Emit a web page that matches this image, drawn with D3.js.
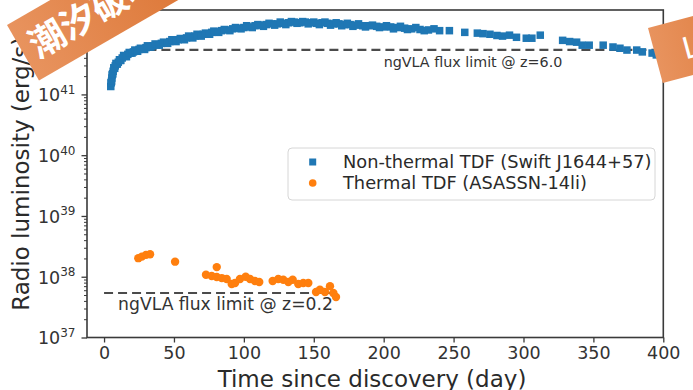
<!DOCTYPE html>
<html>
<head>
<meta charset="utf-8">
<script src="https://cdn.jsdelivr.net/npm/d3@7"></script>
<style>
  html, body { margin: 0; padding: 0; background: #fff; }
  svg { display: block; font-family: "DejaVu Sans", Verdana, sans-serif; }
</style>
</head>
<body>
<svg id="chart" width="693" height="390"></svg>
<script>
// ---------------- data ----------------
// Non-thermal TDF (Swift J1644+57): time (day) and radio luminosity (erg/s)
const swiftDays = [4.8, 5.2, 5.6, 6.0, 6.5, 7.2, 8.0, 9.0, 10.2, 11.5, 13, 15, 17, 19, 21, 23, 25, 27.5, 30, 32,
  35, 38, 41, 44, 47, 50, 53, 56, 59, 62, 65, 68, 71, 74, 77, 80, 84, 88, 92, 96,
  100, 104, 108, 112, 116, 120, 124, 128, 132, 136, 140, 144, 148, 152, 156, 160, 164, 168, 172, 176,
  180, 185, 190, 195, 200, 205, 210, 215, 220, 226, 232, 240, 247, 258, 267, 271, 276, 281, 285, 290,
  295, 302, 306, 312, 328, 333, 338, 342, 347, 357, 364, 369, 374, 381, 385, 392, 395,
  5.0, 5.4, 5.8, 6.2, 7.0, 7.6, 8.5, 9.5, 11, 12, 14, 16, 18, 20, 22, 24, 26, 29, 31, 33.5,
  36.5, 39.5, 42.5, 45.5, 48.5, 51.5, 54.5, 57.5, 60.5, 63.5, 66.5, 69.5, 72.5, 75.5, 78.5, 82, 86, 90, 94, 98,
  102, 106, 110, 114, 118, 122, 126, 130, 134, 138, 142, 146, 150, 154, 158, 162, 166, 170, 174, 178,
  182, 187, 192, 197, 202, 207, 212, 217, 223, 229, 236];
const swiftLum = [1.35e41, 1.58e41, 1.86e41, 2.14e41, 2.40e41, 2.69e41, 2.95e41, 3.16e41, 3.39e41, 3.63e41, 3.98e41, 4.27e41, 4.57e41, 4.79e41, 5.01e41, 5.25e41, 5.50e41, 5.62e41, 5.89e41, 6.03e41,
  6.31e41, 6.61e41, 6.92e41, 7.08e41, 7.41e41, 7.67e41, 7.94e41, 8.13e41, 8.51e41, 8.91e41, 9.12e41, 9.33e41, 9.77e41, 1.00e42, 1.05e42, 1.07e42, 1.12e42, 1.15e42, 1.20e42, 1.23e42,
  1.26e42, 1.29e42, 1.35e42, 1.38e42, 1.41e42, 1.45e42, 1.45e42, 1.48e42, 1.51e42, 1.55e42, 1.51e42, 1.55e42, 1.51e42, 1.48e42, 1.51e42, 1.48e42, 1.45e42, 1.45e42, 1.41e42, 1.41e42,
  1.38e42, 1.35e42, 1.35e42, 1.32e42, 1.29e42, 1.29e42, 1.26e42, 1.23e42, 1.20e42, 1.17e42, 1.15e42, 1.12e42, 1.12e42, 1.05e42, 1.02e42, 1.00e42, 9.77e41, 9.33e41, 9.12e41, 9.44e41,
  8.71e41, 8.41e41, 8.41e41, 9.44e41, 7.76e41, 7.41e41, 7.24e41, 6.46e41, 6.46e41, 6.46e41, 6.03e41, 5.75e41, 5.37e41, 5.37e41, 5.01e41, 4.79e41, 4.47e41,
  1.55e41, 1.66e41, 2.09e41, 2.19e41, 2.75e41, 2.69e41, 3.24e41, 3.16e41, 3.72e41, 3.63e41, 4.37e41, 4.17e41, 4.90e41, 4.79e41, 5.37e41, 5.13e41, 5.75e41, 5.50e41, 6.31e41, 6.03e41,
  6.76e41, 6.46e41, 7.24e41, 6.92e41, 7.94e41, 7.41e41, 8.32e41, 7.94e41, 9.12e41, 8.51e41, 9.77e41, 9.12e41, 1.02e42, 9.77e41, 1.10e42, 1.05e42, 1.17e42, 1.12e42, 1.26e42, 1.20e42,
  1.35e42, 1.26e42, 1.41e42, 1.32e42, 1.48e42, 1.38e42, 1.55e42, 1.41e42, 1.58e42, 1.48e42, 1.58e42, 1.45e42, 1.55e42, 1.41e42, 1.55e42, 1.38e42, 1.51e42, 1.35e42, 1.48e42, 1.32e42,
  1.45e42, 1.29e42, 1.38e42, 1.26e42, 1.35e42, 1.20e42, 1.32e42, 1.17e42, 1.26e42, 1.12e42, 1.20e42];

// Thermal TDF (ASASSN-14li)
const asassnDays = [24.5, 27.0, 30.0, 32.9, 50.8, 72.9, 77.0, 80.6, 80.6, 84.2, 87.7, 91.3, 93.7, 97.2, 101.3, 104.4,
  107.9, 111.0, 120.6, 124.6, 128.2, 131.8, 134.9, 138.9, 142.5, 146.1, 151.6, 154.4, 158.0, 161.6, 164.0, 165.9];
const asassnLum = [2.02e38, 2.14e38, 2.29e38, 2.35e38, 1.77e38, 1.08e38, 1.03e38, 1.44e38, 9.9e37, 9.5e37, 9.2e37, 7.6e37, 7.9e37, 9.2e37, 1.00e38, 9.2e37,
  8.5e37, 8.2e37, 8.5e37, 9.2e37, 8.9e37, 8.2e37, 8.9e37, 7.6e37, 7.9e37, 7.9e37, 5.6e37, 6.1e37, 5.6e37, 7.0e37, 5.4e37, 4.65e37];

// ngVLA flux limits
const limitLabels = ["ngVLA flux limit @ z=6.0", "ngVLA flux limit @ z=0.2"];
const limitLum = [5.4e41, 5.4e37];
const limitStart = [31, 0];
const limitEnd = [398, 165];

// axes
const xTicks = [0, 50, 100, 150, 200, 250, 300, 350, 400];
const yMajorTicks = [1e37, 1e38, 1e39, 1e40, 1e41, 1e42];
const seriesNames = ["Non-thermal TDF (Swift J1644+57)", "Thermal TDF (ASASSN-14li)"];
const xLabel = "Time since discovery (day)";
const yLabel = "Radio luminosity (erg/s)";

// ---------------- chart ----------------
const svg = d3.select("#chart");
const L = 87, R = 663.3, T = 10, B = 337.5;
const BLUE = "#1f77b4", ORANGE = "#ff7f0e", SPINE = "#3a3a3a";

const x = d3.scaleLinear().domain([-12.2, 400]).range([L, R]);
const y = d3.scaleLog().domain([1e37, 2.45e42]).range([B, T]);

// limit lines
const g = svg.append("g");
limitLum.forEach((v, i) => {
  g.append("line")
    .attr("x1", x(limitStart[i])).attr("x2", x(limitEnd[i]))
    .attr("y1", y(v)).attr("y2", y(v))
    .attr("stroke", "#2b2b2b").attr("stroke-opacity", 0.85)
    .attr("stroke-width", 2.2).attr("stroke-dasharray", "9,5");
});

// blue squares
const sq = 7.5;
g.selectAll("rect.sw").data(swiftDays.map((d, i) => [d, swiftLum[i]])).enter()
  .append("rect").attr("class", "sw")
  .attr("x", d => x(d[0]) - sq / 2).attr("y", d => y(d[1]) - sq / 2)
  .attr("width", sq).attr("height", sq).attr("fill", BLUE);

// orange circles
g.selectAll("circle.as").data(asassnDays.map((d, i) => [d, asassnLum[i]])).enter()
  .append("circle").attr("class", "as")
  .attr("cx", d => x(d[0])).attr("cy", d => y(d[1])).attr("r", 4.2).attr("fill", ORANGE);

// limit labels
svg.append("text").attr("x", 473).attr("y", 66.5).attr("text-anchor", "middle")
  .attr("font-size", 14.3).attr("fill", "#333").text(limitLabels[0]);
svg.append("text").attr("x", 225.5).attr("y", 309.5).attr("text-anchor", "middle")
  .attr("font-size", 17.2).attr("fill", "#333").text(limitLabels[1]);

// axes
const xAxis = d3.axisBottom(x).tickValues(xTicks).tickSize(5).tickPadding(4).tickFormat(d3.format("d"));
const gx = svg.append("g").attr("transform", `translate(0,${B})`).call(xAxis);
gx.select(".domain").remove();
gx.selectAll("line").attr("stroke", SPINE).attr("stroke-width", 1.3);
gx.selectAll("text").attr("font-size", 17.5).attr("fill", "#333").attr("font-family", "DejaVu Sans");

// y minor ticks
const minor = [];
for (let e = 37; e <= 42; e++) for (let m = 2; m <= 9; m++) { const v = m * Math.pow(10, e); if (v <= 2.45e42) minor.push(v); }
const gym = svg.append("g").attr("transform", `translate(${L},0)`)
  .call(d3.axisLeft(y).tickValues(minor).tickSize(3).tickFormat(""));
gym.select(".domain").remove();
gym.selectAll("line").attr("stroke", SPINE).attr("stroke-width", 1);

const gy = svg.append("g").attr("transform", `translate(${L},0)`)
  .call(d3.axisLeft(y).tickValues(yMajorTicks).tickSize(5.5).tickPadding(6).tickFormat(() => ""));
gy.select(".domain").remove();
gy.selectAll("line").attr("stroke", SPINE).attr("stroke-width", 1.3);
gy.selectAll(".tick text").each(function (d) {
  const t = d3.select(this);
  t.attr("font-size", 17.5).attr("fill", "#333").attr("dy", "0.36em").attr("font-family", "DejaVu Sans");
  t.append("tspan").text("10");
  t.append("tspan").attr("font-size", 12).attr("dy", "-0.62em").text(String(Math.round(Math.log10(d))));
});

// frame
svg.append("rect").attr("x", L).attr("y", T).attr("width", R - L).attr("height", B - T)
  .attr("fill", "none").attr("stroke", SPINE).attr("stroke-width", 1.6);

// axis labels
svg.append("text").attr("x", 372).attr("y", 387).attr("text-anchor", "middle")
  .attr("font-size", 23).attr("fill", "#2a2a2a").text(xLabel);
svg.append("text").attr("transform", `translate(28.5,${(T + B) / 2}) rotate(-90)`)
  .attr("text-anchor", "middle").attr("font-size", 23).attr("fill", "#2a2a2a").text(yLabel);

// legend
const lg = svg.append("g");
lg.append("rect").attr("x", 288).attr("y", 148).attr("width", 367).attr("height", 52).attr("rx", 4)
  .attr("fill", "#fff").attr("fill-opacity", 0.85).attr("stroke", "#d6d6d6").attr("stroke-width", 1);
lg.append("rect").attr("x", 312.7 - 3.5).attr("y", 162 - 3.5).attr("width", 7).attr("height", 7).attr("fill", BLUE);
lg.append("circle").attr("cx", 312.7).attr("cy", 183).attr("r", 3.8).attr("fill", ORANGE);
lg.append("text").attr("x", 343).attr("y", 168).attr("font-size", 17.8).attr("fill", "#2a2a2a").text(seriesNames[0]);
lg.append("text").attr("x", 343).attr("y", 189).attr("font-size", 17.8).attr("fill", "#2a2a2a").text(seriesNames[1]);

// decorative ribbons (overlay in the reference picture)
const defs = svg.append("defs");
const grad = defs.append("linearGradient").attr("id", "rib").attr("x1", "0").attr("x2", "1").attr("y1", "0").attr("y2", "0");
grad.append("stop").attr("offset", "0").attr("stop-color", "#e8935e");
grad.append("stop").attr("offset", "0.5").attr("stop-color", "#de7a3b");
grad.append("stop").attr("offset", "1").attr("stop-color", "#d46a2a");

const rib1 = svg.append("g").attr("transform", "translate(7,25) rotate(-30)");
rib1.append("rect").attr("x", 0).attr("y", 0).attr("width", 320).attr("height", 64).attr("fill", "url(#rib)");
rib1.append("text").attr("x", 10).attr("y", 45).attr("font-size", 36).attr("font-weight", "bold")
  .attr("font-family", "Noto Sans CJK SC").attr("fill", "#fff").text("潮汐破坏");

const rib2 = svg.append("g").attr("transform", "translate(648,28) rotate(-15)");
rib2.append("rect").attr("x", 0).attr("y", 0).attr("width", 200).attr("height", 57).attr("fill", "url(#rib)");
rib2.append("text").attr("x", 28).attr("y", 40).attr("font-size", 30)
  .attr("font-family", "DejaVu Sans").attr("fill", "#fff").text("L");
</script>
</body>
</html>
